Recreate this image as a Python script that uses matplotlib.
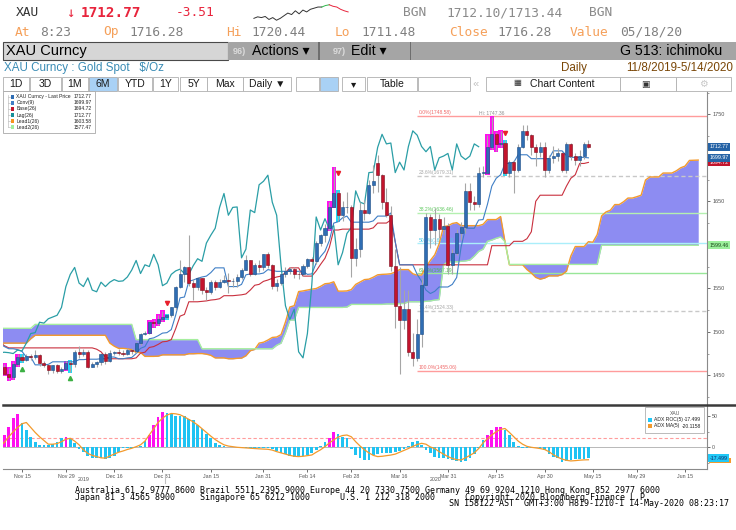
import numpy as np
import pandas as pd
import matplotlib
matplotlib.use("Agg")
import matplotlib.pyplot as plt
import matplotlib.transforms as mtransforms
from matplotlib.patches import Rectangle
from matplotlib.lines import Line2D

W, H, DPI = 736, 530, 100
SANS = ['Liberation Sans', 'DejaVu Sans']
MONO = ['DejaVu Sans Mono']

# ---- XAU Curncy daily candles, 8 Nov 2019 .. 14 May 2020 (weekdays) ----
opens = [1468, 1459, 1452, 1448, 1463, 1471, 1468, 1472, 1471, 1473,
         1464, 1462, 1456, 1462, 1455, 1457, 1464, 1463, 1477, 1474,
         1477, 1460, 1463, 1465, 1475, 1467, 1476, 1476.5, 1476, 1475,
         1479, 1478, 1487, 1498, 1499, 1511, 1510, 1515, 1517, 1519,
         1528, 1552, 1566, 1574, 1556, 1552, 1562, 1548, 1546, 1557,
         1552, 1557, 1560, 1558, 1558.5, 1563, 1571, 1582, 1567, 1577,
         1575, 1589, 1577, 1553, 1556, 1566, 1570, 1572, 1567, 1566,
         1576, 1584, 1581, 1602, 1611, 1619, 1643, 1659, 1634, 1643,
         1643, 1585, 1595, 1640, 1637, 1669, 1694, 1680, 1649, 1634,
         1576, 1530, 1514, 1526, 1477, 1470, 1498, 1554, 1632, 1617,
         1630, 1618, 1622, 1577, 1591, 1613, 1620, 1662, 1649, 1647,
         1683, 1683, 1712, 1727, 1716, 1717, 1683, 1695, 1686, 1713,
         1731, 1726, 1713, 1707, 1713, 1686, 1700, 1702, 1705, 1686,
         1716, 1702, 1698, 1702, 1716]
highs = [1469, 1463, 1458, 1465, 1474, 1474, 1475, 1475, 1479, 1474,
         1467, 1463, 1462, 1463, 1459, 1466, 1467, 1479, 1484, 1480,
         1479, 1465, 1467, 1476, 1477, 1479, 1478, 1480, 1479, 1481,
         1481, 1488, 1499, 1501, 1512, 1514, 1519, 1524, 1520, 1529,
         1553, 1582, 1576, 1611, 1561, 1563, 1562, 1551, 1559, 1559,
         1561, 1565, 1568, 1562, 1567, 1573, 1588, 1583, 1579, 1583,
         1590, 1592, 1578, 1561, 1567, 1574, 1575, 1574, 1570, 1578,
         1585, 1586, 1604, 1612, 1624, 1649, 1689, 1662, 1650, 1661,
         1646, 1608, 1649, 1652, 1674, 1692, 1703, 1681, 1665, 1645,
         1595, 1575, 1548, 1548, 1499, 1515, 1562, 1637, 1635, 1642,
         1635, 1632, 1625, 1595, 1618, 1626, 1671, 1671, 1656, 1690,
         1691, 1726, 1747.36, 1730, 1731, 1720, 1698, 1697, 1716, 1738,
         1738, 1727, 1716, 1718, 1718, 1703, 1714, 1711, 1707, 1718,
         1717, 1706, 1709, 1718, 1720.44]
lows = [1456, 1450, 1445, 1446, 1461, 1465, 1466, 1468, 1469, 1461,
        1459, 1452, 1453, 1453, 1453, 1456, 1454, 1460, 1470, 1472,
        1458, 1459, 1460, 1462, 1463, 1465, 1473, 1473, 1472, 1473,
        1474, 1476, 1485, 1496, 1498, 1505, 1508, 1512, 1515, 1517,
        1525, 1550, 1557, 1553, 1536, 1548, 1544, 1536, 1543, 1548,
        1550, 1556, 1545, 1552, 1551, 1561, 1571, 1564, 1565, 1569,
        1571, 1573, 1549, 1547, 1554, 1563, 1566, 1562, 1561, 1564,
        1573, 1577, 1578, 1599, 1603, 1617, 1643, 1627, 1627, 1637,
        1563, 1576, 1586, 1629, 1635, 1660, 1661, 1641, 1632, 1570,
        1504, 1451, 1503, 1472, 1461, 1467, 1483, 1553, 1596, 1600,
        1608, 1611, 1567, 1567, 1588, 1606, 1614, 1640, 1640, 1643,
        1678, 1681, 1710, 1708, 1712, 1680, 1678, 1660, 1684, 1711,
        1721, 1703, 1691, 1701, 1678, 1683, 1694, 1696, 1684, 1683,
        1698, 1692, 1691, 1699, 1711.48]
closes = [1459, 1452, 1448, 1463, 1471, 1468, 1472, 1471, 1473, 1464,
          1462, 1456, 1462, 1455, 1457, 1464, 1463, 1477, 1474, 1477,
          1460, 1463, 1465, 1475, 1467, 1476, 1476.5, 1476, 1475, 1479,
          1478, 1487, 1498, 1499, 1511, 1510, 1515, 1517, 1519, 1528,
          1552, 1566, 1574, 1556, 1552, 1562, 1548, 1546, 1557, 1552,
          1557, 1560, 1558, 1558.5, 1563, 1571, 1582, 1567, 1577, 1575,
          1589, 1577, 1553, 1556, 1566, 1570, 1572, 1567, 1566, 1576,
          1584, 1581, 1602, 1611, 1619, 1643, 1659, 1634, 1643, 1643.5,
          1585, 1595, 1640, 1637, 1669, 1673, 1680, 1649, 1634, 1576,
          1530, 1514, 1526, 1477, 1470, 1498, 1554, 1632, 1617, 1630,
          1618, 1622, 1577, 1591, 1613, 1620, 1662, 1649, 1647, 1683,
          1683.5, 1712, 1727, 1716, 1717, 1683, 1695, 1686, 1713, 1731,
          1726, 1713, 1707, 1713, 1686, 1700, 1702, 1705, 1686, 1716,
          1702, 1698, 1702, 1716, 1712.77]

conv9 = [1486, 1483, 1480.5, 1480.5, 1479.5, 1477.5, 1471, 1471, 1462, 1462,
         1462, 1462.5, 1465.5, 1465.5, 1465.5, 1465.5, 1465.5, 1465.5, 1468, 1468,
         1468.5, 1468.5, 1468.5, 1469, 1469, 1471, 1471, 1469, 1469, 1470,
         1470.5, 1475, 1481, 1483, 1492, 1493, 1495.5, 1498.5, 1499, 1502.5,
         1519, 1539, 1540, 1558, 1559.5, 1561.5, 1563, 1564, 1568, 1573.5,
         1573.5, 1573.5, 1552, 1552, 1552, 1554.5, 1565.5, 1566.5, 1566.5, 1566.5,
         1567.5, 1571.5, 1570.5, 1569.5, 1569.5, 1569.5, 1569.5, 1569.5, 1569.5, 1569.5,
         1566, 1566.5, 1579, 1586.5, 1592.5, 1605, 1625, 1626.5, 1631, 1633,
         1626, 1626, 1626, 1626, 1626, 1627.5, 1633, 1633, 1633, 1636.5,
         1603.5, 1577, 1577, 1577, 1577, 1566, 1558, 1548, 1544, 1546.5,
         1551.5, 1551.5, 1551.5, 1554.5, 1562.5, 1597.5, 1619, 1619, 1619, 1628.5,
         1629, 1646.5, 1667.5, 1676.5, 1680.5, 1693.5, 1693.5, 1695, 1703.5, 1703.5,
         1703.5, 1699, 1699, 1699, 1699, 1699, 1708, 1708, 1708, 1702.5,
         1700.5, 1700.5, 1700.5, 1700.5, 1699.97]
base26 = ([1488, 1484] + [1481.5] * 20 + [1480, 1477, 1471] + [1469] * 6 +
          [1470, 1475.5, 1476.5, 1482, 1483, 1485.5, 1488.5, 1489, 1491,
           1503.5, 1518, 1520, 1534.5, 1534.5, 1534.5, 1535, 1535.5, 1536.5, 1537,
           1538, 1541.5, 1541.5, 1541.5, 1542, 1542.5, 1543.5, 1548, 1553.5, 1554.5,
           1558, 1559.5, 1561.5, 1563, 1564, 1568, 1573.5, 1573.5, 1573.5, 1564,
           1564, 1564, 1570, 1577.5, 1584.5, 1597, 1617, 1617] + [1618] * 7 +
          [1619.5, 1625, 1625, 1625, 1628.5, 1603.5] + [1577] * 21 + [1599] * 5 +
          [1604] * 3 + [1607, 1615, 1650] + [1657] * 6 +
          [1667.5, 1676.5, 1680.5, 1693.5, 1693.5, 1694.72])

# cloud, already placed 25 sessions ahead (160 sessions incl. future)
lead1 = ([1487] * 7 + [1492] + [1496] * 17 +
         [1487, 1483.5, 1481, 1481, 1480.5, 1479.5, 1476.25, 1476.25, 1471.75, 1471.75,
          1471.75, 1472, 1473.5, 1473.5, 1473.5, 1473.5, 1473.5, 1473.5, 1474.75, 1474.75,
          1475, 1475, 1474.25, 1473, 1470, 1470, 1470, 1469, 1469, 1469.5,
          1469.75, 1472.5, 1478.25, 1479.75, 1487, 1488, 1490.5, 1493.5, 1494, 1496.75,
          1511.25, 1528.5, 1530, 1546.25, 1547, 1548, 1549, 1549.75, 1552.25, 1555.25,
          1555.75, 1557.5, 1546.75, 1546.75, 1547, 1548.5, 1554.5, 1557.25, 1560, 1560.5,
          1562.75, 1565.5, 1566, 1566.25, 1566.75, 1568.75, 1571.5, 1571.5, 1571.5, 1566.75,
          1565, 1565.25, 1574.5, 1582, 1588.5, 1601, 1621, 1621.75, 1624.5, 1625.5,
          1622, 1622, 1622, 1622, 1622, 1623.5, 1629, 1629, 1629, 1632.5,
          1603.5, 1577, 1577, 1577, 1577, 1571.5, 1567.5, 1562.5, 1560.5, 1561.75,
          1564.25, 1564.25, 1564.25, 1565.75, 1569.75, 1587.25, 1598, 1598, 1598, 1603.58,
          1603, 1611.75, 1633.25, 1637.75, 1639.75, 1646.25, 1646.25, 1649.5, 1653.75, 1653.75,
          1655.25, 1657, 1674.5, 1678, 1678, 1678, 1682.5, 1682.5, 1682.5, 1685,
          1688.5, 1690.5, 1697, 1697.25, 1697.4])
lead2 = ([1504] * 8 + [1508.5] * 23 + [1491] * 15 + [1480.5] * 17 +
         [1484.5, 1487, 1499, 1513.5, 1513.5] + [1528] * 11 + [1528.5] + [1531.5] * 8 +
         [1532] * 3 + [1532.5] * 2 + [1534.5] * 4 +
         [1535, 1535.5, 1536.5, 1537, 1577, 1580.5, 1580.5, 1580.5, 1581, 1581.5,
          1582.5, 1587, 1592.5, 1595, 1604, 1605.5, 1607.5, 1609, 1603.5] +
         [1577.47] * 21 + [1599.46] * 23)

adx_roc = [8, 20, 33, 46.7, 53, 38.7, 28, 17, 9, 3.7,
           3.7, 3.7, 4.8, 8, 14.5, 17, 13, 7.5, -3.2, -8,
           -13.4, -16.6, -17.8, -17.8, -18.8, -17.8, -13.4, -7, -1.6, -0.5,
           -0.5, 0.3, 2.7, 10.2, 20.3, 35.5, 49, 57, 56, 54.5,
           50.7, 50.7, 50.7, 45.4, 43.7, 36.7, 30.3, 22.2, 14.2, 7.6,
           4.5, 2.7, 1, 0.3, 0.3, -0.5, -0.5, -0.8, -1, -1,
           -1, -1.5, -2.7, -6, -8.6, -11.3, -13.4, -15, -15, -14,
           -12.4, -9.7, -4.4, 2.7, 9, 15.6, 24.2, 20.9, 17, 14.2,
           -3, -12.4, -16.6, -20.4, -21, -13, -11, -9, -9, -9,
           -8, -6, -3, 2, 9, 10, 3.7, -4.4, -9.7, -15,
           -17.8, -17.8, -18.8, -20.4, -21.5, -23.2, -22, -17.8, -11.3, -0.5,
           12, 19.8, 27.9, 32, 33, 28.5, 19.8, 9, 2.7, -1.6,
           -1.6, -0.5, 0.3, -0.5, -4.4, -11.3, -15, -17.8, -23.2, -21.5,
           -20.4, -19.4, -19.4, -18.8, -17.499]
adx_ma = [2, 8, 17, 25, 32, 38, 40, 32, 24, 17,
          11, 5, 5, 6, 9, 13, 14.5, 10, 4, -4,
          -10, -13, -15, -17, -17.5, -14, -11, -8, -6, -3.5,
          -1.6, 1, 4, 10, 20, 30, 40, 47, 52, 54.5,
          54, 52.5, 49, 45, 41, 36, 30, 24, 18, 12.5,
          8, 4, 2, 1, 0, -0.5, -1, -1.5, -2, -2.5,
          -2.8, -3.2, -4.5, -7, -9, -11, -13, -14.5, -15, -14.5,
          -13.5, -12.4, -8, -4, 1, 7, 12, 16.5, 19, 19.8,
          17, 9, 2, -4, -9, -13, -15, -14.5, -13.5, -12.5,
          -11, -8, -5, -2, 1.5, 4.5, 6.4, 5, 0.5, -2,
          -7, -11, -15, -18, -20, -20.4, -17, -13, -9, -2,
          7, 14, 20, 25, 29, 30.3, 24, 17, 10, 5,
          1.5, 0, -1, -2, -3.5, -7, -12, -16, -19, -21,
          -22, -21.5, -20.8, -20.3, -20.1158]

tick_days = ['2019-11-15', '2019-11-29', '2019-12-16', '2019-12-31', '2020-01-15',
             '2020-01-31', '2020-02-14', '2020-02-28', '2020-03-16', '2020-03-31',
             '2020-04-15', '2020-04-30', '2020-05-15', '2020-05-29', '2020-06-15']
fib_pct = ['0.0%', '23.6%', '38.2%', '50.0%', '61.8%', '76.4%', '100.0%']
fib_vals = [1748.58, 1679.31, 1636.46, 1601.82, 1567.19, 1524.33, 1455.06]
fib_start = '2020-03-20'
sig_days = ['2019-11-15', '2019-12-02', '2020-01-01', '2020-02-25', '2020-04-17']
sig_px = [1457, 1447, 1533, 1683, 1728.5]
sig_up = [True, True, False, False, False]
legend_names = ['XAU Curncy - Last Price', 'Conv(9)', 'Base(26)', 'Lag(26)', 'Lead1(26)', 'Lead2(26)']
legend_vals = ['1712.77', '1699.97', '1694.72', '1712.77', '1603.58', '1577.47']
spark = [8, 12, 10, 13, 5, 10, 3, 8, 15, 22, 18, 28, 20, 30, 25, 32, 35, 38, 38, 42, 44, 40, 38, 32, 28, 25]

# ---------------------------------------------------------------
days = pd.bdate_range('2019-11-08', periods=170)
def pos(s):
    return days.get_loc(pd.Timestamp(s))

o, hi, lo, c = map(np.array, (opens, highs, lows, closes))
n = len(c)
x = np.arange(n)
xc = np.arange(len(lead1))
roc = np.array(adx_roc)
hot = (roc > 15) & (roc > np.r_[np.inf, roc[:-1]])
cool = ~hot & np.r_[False, hot[:-1]]
XMIN, XMAX = 0.68, 161.0

fig = plt.figure(figsize=(W / DPI, H / DPI), dpi=DPI)
fig.patch.set_facecolor('white')

def fx(px):
    return px / W
def fy(py):
    return 1 - py / H
def box(x0, y0, x1, y1, **kw):
    fig.add_artist(Rectangle((fx(x0), fy(y1)), (x1 - x0) / W, (y1 - y0) / H,
                             transform=fig.transFigure, **kw))
def txt(px, py, s, **kw):
    kw.setdefault('va', 'center')
    fig.text(fx(px), fy(py), s, **kw)

# ---- main ichimoku panel ----
ax = fig.add_axes([fx(3), fy(404), (707 - 3) / W, (404 - 91) / H])
ax.fill_between(xc, lead1, lead2, color='#8d8cf2', lw=0, zorder=1)
ax.plot(xc, lead1, color='#f39a2c', lw=1.0, zorder=2)
ax.plot(xc, lead2, color='#a6ee9e', lw=1.0, zorder=2)

fib_line = ['#ff9c9c', '#c8c8c8', '#b4f0b0', '#aaeefa', '#98e698', '#c8c8c8', '#ff9c9c']
fib_txt = ['#f06a6a', '#a8a8a8', '#5cc85c', '#48c8e8', '#4cbc4c', '#a8a8a8', '#f06a6a']
fib_ls = ['-', (0, (3, 2)), '-', '-', '-', (0, (3, 2)), '-']
for pct, v, lc, tc, ls in zip(fib_pct, fib_vals, fib_line, fib_txt, fib_ls):
    ax.hlines(v, pos(fib_start), XMAX, color=lc, lw=1.0, linestyles=ls, zorder=1.5)
    ax.text(pos(fib_start) + 0.3, v + 0.8, f'{pct}({v:.2f})', fontsize=3.6,
            color=tc, va='bottom', family=SANS, zorder=1.6)

ax.plot(x, base26, color='#c9303e', lw=0.8, zorder=3)
ax.plot(x, conv9, color='#3f7fc6', lw=0.8, zorder=3)
ax.plot(x[:n - 25], c[25:], color='#2a9ea6', lw=0.9, zorder=3)

ax.bar(x[hot], (hi - lo)[hot] + 2, bottom=lo[hot] - 1, width=1.0, color='#ff10f0', zorder=2.6)
ax.bar(x[cool], (hi - lo)[cool] + 2, bottom=lo[cool] - 1, width=1.0, color='#22d8f8', zorder=2.6)
ax.vlines(x, lo, hi, color='#a6a6a6', lw=0.8, zorder=3.5)
up = c >= o
ax.bar(x, np.maximum(np.abs(c - o), 0.8), bottom=np.minimum(o, c), width=0.7,
       color=list(np.where(up, '#2f6db3', '#c3142d')),
       edgecolor=list(np.where(up, '#1b4b85', '#7c0c1c')), linewidth=0.4, zorder=4)

for d, yv, u in zip(sig_days, sig_px, sig_up):
    ax.plot(pos(d), yv, marker='^' if u else 'v', color='#3cb043' if u else '#e8202c',
            ms=3.0, zorder=5)
ax.text(pos('2020-04-14'), 1751.5, 'Hi: 1747.36', fontsize=3.6, color='#909090',
        ha='center', va='center', family=SANS)

ax.set_xlim(XMIN, XMAX)
ax.set_ylim(1417, 1776.8)
ax.yaxis.tick_right()
ymaj = np.arange(1450, 1751, 50)
ax.set_yticks(ymaj)
# 1600 and 1700 sit under the value flags on the right, as in the terminal
ax.set_yticklabels(['' if v in (1600, 1700) else str(v) for v in ymaj], family=SANS)
ax.set_yticks(np.arange(1425, 1776, 25), minor=True)
ax.tick_params(axis='y', which='major', labelsize=4.0, length=2.5, width=0.6,
               colors='#555555', pad=1.5)
ax.tick_params(axis='y', which='minor', length=1.5, width=0.5, colors='#777777')
ax.tick_params(axis='x', which='both', bottom=False, labelbottom=False)
for s in ['left', 'top', 'bottom']:
    ax.spines[s].set_visible(False)
ax.spines['right'].set_color('#8a8a8a')
ax.spines['right'].set_linewidth(0.8)

trans = mtransforms.blended_transform_factory(ax.transAxes, ax.transData)
for val, fc, tc in [(lead2[-1], '#9cf09c', '#1a4a1a'), (base26[-1], '#c3142d', 'white'),
                    (conv9[-1], '#2563a6', 'white'), (closes[-1], '#2563a6', 'white')]:
    ax.text(1.004, val, f'{val:.2f}', transform=trans, fontsize=3.8, color=tc,
            va='center', ha='left', family=SANS, clip_on=False, zorder=6,
            bbox=dict(boxstyle='square,pad=0.25', fc=fc, ec='none'))

# ---- ADX ROC panel ----
ax2 = fig.add_axes([fx(3), fy(469), (707 - 3) / W, (469 - 406) / H])
ax2.axhline(0, color='#b8b8b8', lw=0.7, zorder=1)
ax2.axhline(15, color='#ff9c9c', lw=0.8, ls=(0, (3, 2)), zorder=1)
ax2.bar(x, roc, width=0.62, color=list(np.where(hot, '#ff10f0', '#1fc3f3')), zorder=2)
ax2.plot(x, adx_ma, color='#f39a2c', lw=0.9, zorder=3)
ax2.set_xlim(XMIN, XMAX)
ax2.set_ylim(-35, 66.6)
ax2.yaxis.tick_right()
ax2.set_yticks([0, 50])
ax2.set_yticks([-25, 25], minor=True)
ax2.set_xticks([pos(d) for d in tick_days])
ax2.set_xticklabels([f'{pd.Timestamp(d):%b} {pd.Timestamp(d).day}' for d in tick_days],
                    family=SANS)
ax2.tick_params(axis='both', which='major', labelsize=3.8, length=2, width=0.6,
                colors='#555555', pad=1.5)
ax2.tick_params(axis='y', which='minor', length=1.5, width=0.5, colors='#777777')
for s in ['left', 'top']:
    ax2.spines[s].set_visible(False)
for s in ['right', 'bottom']:
    ax2.spines[s].set_color('#8a8a8a')
    ax2.spines[s].set_linewidth(0.8)
for lab in ax2.get_yticklabels():
    lab.set_family(SANS)

yb = pos('2019-12-31') + 0.5
t2 = mtransforms.blended_transform_factory(ax2.transData, ax2.transAxes)
ax2.plot([yb, yb], [-0.08, -0.22], transform=t2, color='#c0c0c0', lw=0.8, clip_on=False)
ax2.text((XMIN + yb) / 2, -0.16, '2019', transform=t2, fontsize=3.8, color='#555555',
         ha='center', va='center', family=SANS)
ax2.text((yb + XMAX) / 2, -0.16, '2020', transform=t2, fontsize=3.8, color='#555555',
         ha='center', va='center', family=SANS)
tr2 = mtransforms.blended_transform_factory(ax2.transAxes, ax2.transData)
# MA(5) flag peeks out from under the ROC flag
ax2.add_patch(Rectangle((1.003, adx_ma[-1] - 5.5), 0.031, 8, transform=tr2,
                        fc='#f39a2c', ec='none', clip_on=False, zorder=5))
ax2.text(1.004, adx_roc[-1], f'{adx_roc[-1]:.3f}', transform=tr2, fontsize=3.8,
         color='#0a2a6a', va='center', ha='left', family=SANS, clip_on=False, zorder=6,
         bbox=dict(boxstyle='square,pad=0.25', fc='#22c8f6', ec='none'))

# panel separator
fig.add_artist(Line2D([fx(3), 1.0], [fy(405), fy(405)], transform=fig.transFigure,
                      color='#3a3a3a', lw=1.8))

# ---- legends ----
box(3, 91, 95, 133, fc='white', ec='#a8a8a8', lw=0.6, zorder=10)
fig.add_artist(Line2D([fx(8), fx(8)], [fy(95), fy(127)], transform=fig.transFigure,
                      color='#c0c0c0', lw=0.5, zorder=11))
leg_cols = ['#2e6db4', '#3f7fc6', '#c3142d', '#168f99', '#f7941d', '#a2f0a0']
for i, (nm, vv, cc) in enumerate(zip(legend_names, legend_vals, leg_cols)):
    yy = 96.7 + i * 6.1
    fig.add_artist(Line2D([fx(8), fx(10)], [fy(yy), fy(yy)], transform=fig.transFigure,
                          color='#c0c0c0', lw=0.5, zorder=11))
    box(10.5, yy - 2, 14.5, yy + 2, fc=cc, ec='none', zorder=11)
    txt(16.5, yy, nm, fontsize=3.6, color='#222222', family=SANS, zorder=12)
    txt(92, yy, vv, fontsize=3.6, color='#222222', family=SANS, ha='right', zorder=12)

box(645, 407, 704, 433, fc='white', ec='#b0b0b0', lw=0.6, zorder=10)
txt(675, 413.5, 'XAU', fontsize=3.6, color='#555555', family=SANS, ha='center', zorder=12)
for yy, nm, vv, cc in [(419.5, 'ADX ROC(5)', '-17.499', '#22c8f6'),
                       (426, 'ADX MA(5)', '-20.1158', '#f39a2c')]:
    box(647.5, yy - 2, 651.5, yy + 2, fc=cc, ec='none', zorder=11)
    txt(653.5, yy, nm, fontsize=3.6, color='#222222', family=SANS, zorder=12)
    txt(701, yy, vv, fontsize=3.6, color='#222222', family=SANS, ha='right', zorder=12)

# ---- header rows ----
txt(16, 13, 'XAU', fontsize=9.3, family=MONO, color='#333333')
txt(66, 13, '\u2193', fontsize=10, family=MONO, color='#e8243c')
txt(81, 13, '1712.77', fontsize=10.3, family=MONO, weight='bold', color='#e8243c')
txt(176, 13, '-3.51', fontsize=9.3, family=MONO, color='#e8243c')
txt(403, 13, 'BGN', fontsize=9.3, family=MONO, color='#8a8a8a')
txt(446, 13, '1712.10/1713.44', fontsize=9.3, family=MONO, color='#8a8a8a')
txt(589, 13, 'BGN', fontsize=9.3, family=MONO, color='#8a8a8a')
row2 = [('At', 15, '#f5a05a'), ('8:23', 40, '#808080'), ('Op', 103, '#f5a05a'),
        ('1716.28', 129, '#808080'), ('Hi', 226, '#f5a05a'), ('1720.44', 251, '#808080'),
        ('Lo', 335, '#f5a05a'), ('1711.48', 361, '#808080'), ('Close', 449, '#f5a05a'),
        ('1716.28', 497, '#808080'), ('Value', 570, '#f5a05a'), ('05/18/20', 620, '#808080')]
for s, px, col in row2:
    txt(px, 32, s, fontsize=9.3, family=MONO, color=col)

sp = fig.add_axes([fx(252), fy(21), 98 / W, 17 / H])
sp.axis('off')
sx = np.arange(len(spark))
sp.plot(sx[:19], spark[:19], color='#333333', lw=0.7)
sp.plot(sx[18:21], spark[18:21], color='#2fb84a', lw=0.7)
sp.plot(sx[20:], spark[20:], color='#e8243c', lw=0.7)
sp.set_xlim(-0.5, len(spark) - 0.5)

box(3, 42, 228, 60, fc='#d6d6d6', ec='#4a4a4a', lw=0.8)
box(228, 42, 736, 60, fc='#a5a5a5', ec='none')
box(318, 42, 320, 60, fc='#6e6e6e', ec='none')
box(409.5, 42, 411.5, 60, fc='#6e6e6e', ec='none')
txt(6, 51, 'XAU Curncy', fontsize=10.5, family=SANS, color='black')
txt(233, 51.5, '96)', fontsize=6.5, family=SANS, weight='bold', color='#dcdcdc')
txt(252, 51, 'Actions \u25be', fontsize=10.2, family=SANS, color='black')
txt(333, 51.5, '97)', fontsize=6.5, family=SANS, weight='bold', color='#dcdcdc')
txt(351, 51, 'Edit \u25be', fontsize=10.2, family=SANS, color='black')
txt(722, 51, 'G 513: ichimoku', fontsize=10.2, family=SANS, color='black', ha='right')

txt(4, 68, 'XAU Curncy : Gold Spot   $/Oz', fontsize=8.4, family=SANS, color='#3a8cb5')
txt(561, 68, 'Daily', fontsize=8.4, family=SANS, color='#7a4606')
txt(733, 68, '11/8/2019-5/14/2020', fontsize=8.4, family=SANS, color='#7a4606', ha='right')

buttons = [(3, 29, '1D'), (30, 61, '3D'), (62, 88, '1M'), (89, 117, '6M'), (118, 152, 'YTD'),
           (153, 178, '1Y'), (180, 207, '5Y'), (207, 243, 'Max'), (243, 291, 'Daily \u25bc'),
           (296, 319, ''), (320, 338, ''), (342, 365, '\u25be'), (367, 417, 'Table'),
           (418, 470, ''), (486, 620, ''), (620, 676, ''), (676, 731, '')]
for x0, x1, lab in buttons:
    fc = '#a9d1f5' if lab == '6M' or x0 == 320 else 'white'
    box(x0, 77, x1, 91, fc=fc, ec='#b0b0b0', lw=0.6)
    if lab:
        txt((x0 + x1) / 2, 84, lab, fontsize=7.5, family=SANS, color='#1a1a1a', ha='center')
txt(476, 84, '\u00ab', fontsize=8, family=SANS, color='#c0c0c0', ha='center')
txt(517, 84, '\u25a6', fontsize=6, family=SANS, color='#333333', ha='center')
txt(562, 84, 'Chart Content', fontsize=7.5, family=SANS, color='#1a1a1a', ha='center')
txt(645, 84, '\u25a3', fontsize=6.5, family=SANS, color='#333333', ha='center')
txt(703, 84, '\u2699', fontsize=7, family=SANS, color='#c8c8c8', ha='center')

# ---- footer ----
txt(75, 490.5, 'Australia 61 2 9777 8600 Brazil 5511 2395 9000 Europe 44 20 7330 7500 '
    'Germany 49 69 9204 1210 Hong Kong 852 2977 6000', fontsize=6.0, family=MONO, color='black')
txt(75, 497, 'Japan 81 3 4565 8900     Singapore 65 6212 1000      U.S. 1 212 318 2000'
    '      Copyright 2020 Bloomberg Finance L.P.', fontsize=6.0, family=MONO, color='black')
txt(449, 504, 'SN 158122 AST  GMT+3:00 H819-1210-1 14-May-2020 08:23:17',
    fontsize=6.0, family=MONO, color='black')

fig.savefig('out.png', dpi=DPI, facecolor='white')
